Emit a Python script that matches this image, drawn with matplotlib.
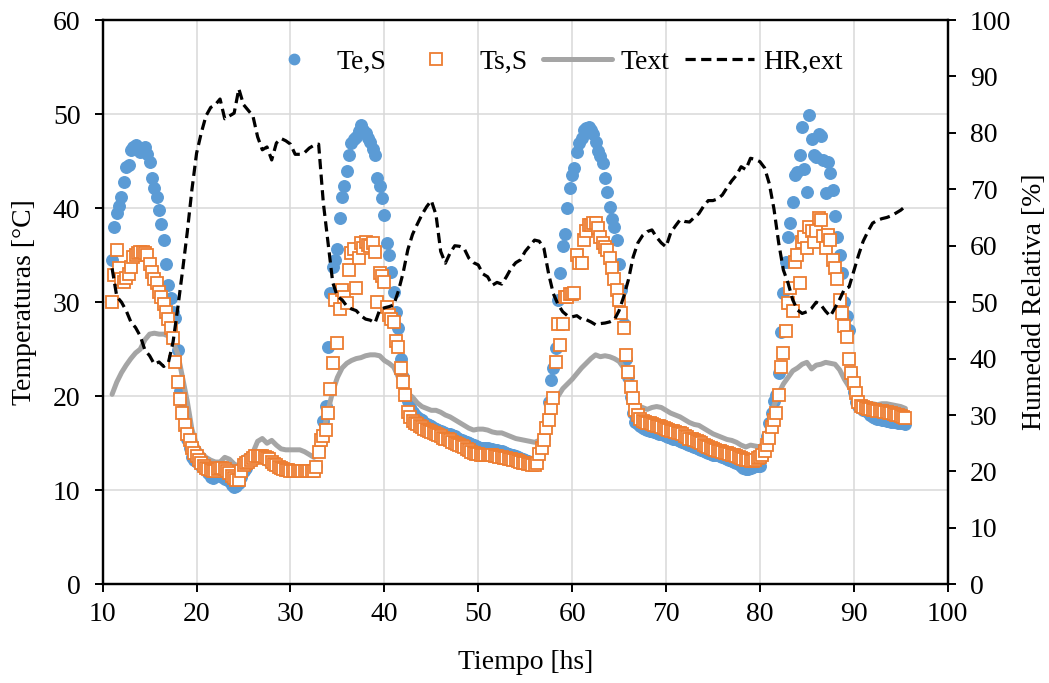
import numpy as np
import matplotlib
matplotlib.use("Agg")
import matplotlib.pyplot as plt

plt.rcParams['font.family'] = ['Liberation Serif', 'DejaVu Serif']

# ---- data ----
# marker series sampled every 0.25 h, line series every 0.5 h, both from 11.0 h
t_start = 11.0
step_markers = 0.25
step_lines = 0.5

te_s = [
    34.5, 38.0, 39.5, 40.2, 41.2, 42.8, 44.4, 44.6,
    46.2, 46.5, 46.7, 46.3, 46.0, 46.3, 46.5, 45.8,
    44.9, 43.2, 42.1, 41.2, 39.8, 38.3, 36.6, 34.1,
    31.8, 30.4, 29.0, 28.3, 24.9, 20.6, 18.5, 17.0,
    15.5, 14.5, 13.5, 13.2, 13.0, 12.8, 12.6, 12.4,
    12.2, 11.8, 11.4, 11.3, 11.8, 11.6, 11.5, 11.4,
    11.2, 11.3, 11.0, 10.6, 10.3, 10.4, 10.8, 11.4,
    12.0, 12.4, 12.8, 13.1, 13.3, 13.6, 13.8, 13.8,
    13.6, 13.4, 13.2, 13.1, 13.0, 12.8, 12.6, 12.5,
    12.4, 12.3, 12.3, 12.2, 12.2, 12.2, 12.2, 12.1,
    12.1, 12.1, 12.1, 12.1, 12.1, 12.0, 12.0, 12.6,
    14.3, 15.5, 17.4, 19.0, 25.2, 31.0, 33.7, 34.5,
    35.7, 39.0, 41.2, 42.4, 43.9, 45.6, 46.9, 47.3,
    47.6, 48.2, 48.8, 48.3, 48.0, 47.5, 47.0, 46.3,
    45.6, 43.2, 42.4, 41.1, 39.3, 36.3, 35.0, 33.2,
    31.1, 29.0, 27.2, 24.0, 22.0, 20.5, 19.5, 18.8,
    18.3, 18.0, 17.8, 17.6, 17.5, 17.2, 17.0, 16.9,
    16.8, 16.6, 16.5, 16.4, 16.3, 16.2, 16.1, 16.0,
    16.0, 15.9, 15.8, 15.6, 15.5, 15.3, 15.2, 15.1,
    15.0, 14.9, 14.8, 14.7, 14.6, 14.5, 14.5, 14.5,
    14.5, 14.4, 14.4, 14.3, 14.3, 14.2, 14.2, 14.1,
    14.0, 13.9, 13.8, 13.7, 13.6, 13.5, 13.4, 13.3,
    13.2, 13.1, 13.0, 13.0, 13.0, 13.2, 14.0, 14.8,
    15.6, 16.9, 19.4, 21.7, 23.0, 25.1, 30.2, 33.1,
    36.0, 37.3, 40.0, 42.1, 43.5, 44.3, 46.0, 46.9,
    47.5, 48.3, 48.5, 48.6, 48.3, 47.9, 47.0, 46.1,
    45.5, 44.8, 43.2, 41.7, 40.1, 38.8, 38.0, 36.6,
    34.1, 31.3, 27.7, 24.0, 22.0, 19.9, 18.2, 17.3,
    17.0, 16.8, 16.6, 16.5, 16.4, 16.3, 16.3, 16.2,
    16.1, 16.0, 16.0, 15.9, 15.8, 15.7, 15.6, 15.5,
    15.4, 15.3, 15.2, 15.1, 15.0, 14.9, 14.8, 14.7,
    14.6, 14.5, 14.4, 14.3, 14.2, 14.1, 14.0, 13.9,
    13.8, 13.8, 13.7, 13.6, 13.5, 13.4, 13.3, 13.2,
    13.1, 13.0, 12.9, 12.8, 12.6, 12.4, 12.3, 12.3,
    12.4, 12.5, 12.6, 12.6, 12.6, 13.5, 14.6, 15.8,
    17.1, 18.2, 19.5, 20.1, 22.5, 26.8, 31.0, 34.3,
    36.9, 38.4, 40.6, 43.5, 43.8, 45.6, 48.6, 44.2,
    41.7, 49.9, 47.4, 45.6, 45.4, 47.9, 47.7, 45.1,
    41.6, 44.9, 43.7, 41.9, 39.2, 36.9, 35.0, 33.1,
    30.0, 28.5, 27.0, 22.5, 20.5, 19.4, 19.0, 18.7,
    18.5, 18.4, 18.3, 18.0, 17.8, 17.7, 17.6, 17.6,
    17.5, 17.5, 17.4, 17.4, 17.3, 17.3, 17.3, 17.2,
    17.1, 17.1, 17.0,
]

ts_s = [
    30.0, 32.9, 35.5, 33.6, 32.5, 32.1, 32.6, 33.0,
    33.7, 34.8, 35.0, 35.2, 35.3, 35.3, 35.2, 35.0,
    34.1, 33.2, 32.5, 32.0, 31.1, 30.5, 29.8, 29.0,
    28.2, 27.2, 26.2, 23.6, 21.5, 19.7, 18.2, 16.9,
    16.0, 15.3, 14.5, 14.0, 13.6, 13.2, 12.9, 12.6,
    12.4, 12.3, 12.2, 12.1, 12.1, 12.3, 12.4, 12.4,
    12.3, 12.0, 11.8, 11.5, 11.3, 11.1, 11.1, 12.0,
    12.7, 12.9, 13.0, 13.2, 13.4, 13.6, 13.6, 13.6,
    13.6, 13.5, 13.4, 13.3, 13.0, 12.8, 12.7, 12.5,
    12.4, 12.3, 12.2, 12.2, 12.1, 12.1, 12.1, 12.1,
    12.0, 12.0, 12.0, 12.0, 12.0, 12.1, 12.1, 12.5,
    14.1, 15.3, 15.8, 16.4, 18.2, 20.8, 23.5, 30.2,
    25.7, 29.3, 31.3, 30.5, 29.9, 33.4, 35.2, 35.7,
    31.5, 34.7, 36.3, 35.8, 36.4, 36.1, 36.0, 36.3,
    35.3, 30.0, 33.1, 32.8, 32.1, 29.5, 28.6, 28.2,
    27.9, 25.9, 25.2, 23.0, 21.5, 20.1, 18.3, 17.8,
    17.4, 17.2, 17.0, 16.8, 16.7, 16.5, 16.4, 16.3,
    16.2, 16.1, 16.0, 15.9, 15.8, 15.6, 15.5, 15.4,
    15.3, 15.1, 15.0, 14.9, 14.8, 14.7, 14.6, 14.4,
    14.3, 14.1, 14.0, 13.9, 13.9, 13.8, 13.8, 13.8,
    13.8, 13.7, 13.7, 13.6, 13.6, 13.5, 13.5, 13.4,
    13.4, 13.3, 13.3, 13.2, 13.2, 13.1, 13.0, 12.9,
    12.9, 12.8, 12.8, 12.7, 12.7, 12.9, 13.9, 14.5,
    15.3, 16.6, 17.5, 18.7, 19.8, 23.6, 27.7, 25.4,
    27.7, 30.5, 30.5, 30.9, 30.9, 31.0, 35.0, 34.2,
    34.2, 36.6, 37.6, 38.2, 38.2, 38.4, 38.4, 37.9,
    36.9, 36.3, 35.9, 35.5, 34.7, 33.6, 32.5, 31.3,
    30.2, 28.9, 27.2, 24.4, 22.6, 21.0, 19.8, 18.5,
    18.0, 17.6, 17.4, 17.3, 17.2, 17.1, 17.0, 16.9,
    16.8, 16.8, 16.7, 16.6, 16.5, 16.4, 16.3, 16.3,
    16.2, 16.1, 16.1, 16.0, 15.8, 15.7, 15.5, 15.4,
    15.3, 15.2, 15.1, 15.0, 14.8, 14.7, 14.6, 14.5,
    14.4, 14.3, 14.2, 14.2, 14.1, 14.0, 14.0, 13.9,
    13.8, 13.7, 13.6, 13.5, 13.4, 13.3, 13.2, 13.2,
    13.1, 13.1, 13.2, 13.4, 13.5, 13.7, 14.2, 14.8,
    15.6, 16.7, 17.5, 18.2, 20.1, 23.1, 24.6, 26.9,
    29.9, 31.5, 29.1, 34.3, 35.0, 32.0, 36.4, 36.9,
    35.8, 38.0, 37.6, 36.4, 37.6, 38.9, 38.7, 37.0,
    35.8, 37.1, 36.6, 34.5, 33.6, 32.5, 30.2, 28.9,
    27.5, 26.3, 24.0, 22.5, 21.4, 20.3, 19.4, 19.0,
    18.8, 18.7, 18.6, 18.6, 18.5, 18.5, 18.4, 18.4,
    18.4, 18.3, 18.3, 18.2, 18.2, 18.1, 18.0, 18.0,
    17.9, 17.8, 17.7,
]

t_ext = [
    20.2, 21.5, 22.5, 23.3, 24.0, 24.6, 25.0, 26.0, 26.6, 26.7,
    26.6, 26.6, 26.4, 25.8, 24.5, 22.0, 19.5, 16.5, 14.8, 14.0,
    13.5, 13.2, 13.0, 13.0, 13.5, 13.3, 12.8, 12.5, 13.5, 13.8,
    14.0, 15.2, 15.5, 15.0, 15.3, 14.8, 14.4, 14.3, 14.3, 14.3,
    14.3, 14.1, 13.8, 13.5, 14.0, 16.0, 18.5, 20.5, 22.0, 23.0,
    23.5, 23.8, 24.0, 24.1, 24.3, 24.4, 24.4, 24.3, 23.8, 23.5,
    23.1, 22.0, 21.0, 20.3, 19.9, 19.3, 18.9, 18.7, 18.5, 18.5,
    18.3, 18.0, 17.8, 17.5, 17.2, 16.9, 16.6, 16.4, 16.5, 16.5,
    16.4, 16.2, 16.1, 16.1, 15.9, 15.7, 15.5, 15.4, 15.3, 15.2,
    15.1, 15.3, 16.5, 18.0, 19.2, 20.0, 20.8, 21.3, 21.8, 22.4,
    23.0, 23.5, 24.0, 24.4, 24.2, 24.3, 24.2, 24.0, 23.7, 23.0,
    21.5, 20.0, 19.0, 18.8, 18.6, 18.8, 18.9, 18.8, 18.5, 18.2,
    18.0, 17.8, 17.5, 17.2, 17.0, 16.9, 16.6, 16.3, 16.0, 15.8,
    15.6, 15.4, 15.3, 15.1, 14.8, 14.6, 14.8, 14.7, 14.6, 15.2,
    16.8, 19.0, 20.3, 21.3, 22.0, 22.7, 23.0, 23.4, 23.6, 22.9,
    23.3, 23.4, 23.6, 23.5, 23.4, 22.8, 21.8, 21.0, 20.2, 19.6,
    19.4, 19.2, 19.2, 19.1, 19.2, 19.2, 19.1, 19.0, 18.9, 18.7,
]

hr_ext = [
    56.0, 51.0, 50.0, 48.5, 46.5, 45.5, 44.0, 41.5, 40.5, 39.0,
    39.4, 38.6, 39.3, 43.0, 49.0, 55.5, 62.3, 69.9, 76.4, 80.0,
    83.0, 84.5, 85.0, 86.0, 82.5, 83.0, 83.5, 87.8, 85.0, 84.0,
    83.0, 79.3, 77.0, 77.5, 75.2, 78.2, 79.0, 78.6, 78.0, 76.2,
    76.2, 76.5, 77.3, 77.8, 78.0, 67.6, 60.5, 53.5, 51.0, 50.4,
    49.3, 48.8, 48.5, 47.6, 47.0, 46.8, 46.3, 48.6, 49.0, 49.2,
    49.5, 52.0, 55.2, 59.3, 62.0, 63.8, 65.5, 66.9, 68.0, 65.5,
    59.0, 56.9, 58.7, 60.0, 59.9, 59.5, 57.8, 57.0, 56.6, 55.0,
    54.5, 53.0, 53.5, 53.2, 54.5, 56.0, 57.0, 57.5, 59.0, 60.0,
    61.0, 60.8, 59.5, 55.0, 51.5, 49.6, 48.3, 47.6, 47.4, 47.6,
    47.0, 46.9, 46.5, 46.0, 46.2, 46.3, 46.5, 46.9, 48.5, 51.0,
    54.0, 58.0, 60.5, 61.8, 62.5, 62.8, 61.5, 60.5, 59.8, 62.3,
    63.5, 64.6, 64.3, 64.2, 65.0, 65.7, 67.0, 68.0, 68.0, 68.3,
    69.0, 70.3, 71.5, 72.5, 74.0, 73.5, 75.5, 75.3, 74.9, 73.8,
    71.0, 66.5, 60.5, 55.7, 53.4, 50.4, 48.6, 48.0, 48.3, 48.9,
    50.0, 49.5, 48.4, 47.5, 49.0, 50.5, 52.3, 52.7, 55.5, 58.3,
    60.8, 62.5, 64.0, 64.5, 64.8, 65.0, 65.3, 65.8, 66.3, 67.0,
]

labels = ["Te,S", "Ts,S", "Text", "HR,ext"]
x_ticks = [10, 20, 30, 40, 50, 60, 70, 80, 90, 100]
yl_ticks = [0, 10, 20, 30, 40, 50, 60]
yr_ticks = [0, 10, 20, 30, 40, 50, 60, 70, 80, 90, 100]

time_m = t_start + step_markers * np.arange(len(te_s))
time_l = t_start + step_lines * np.arange(len(t_ext))

BLUE = '#5B9BD5'
ORANGE = '#ED7D31'
GRAY = '#A5A5A5'
FS = 20

fig = plt.figure(figsize=(10.49, 6.83), dpi=100)
ax = fig.add_axes([0.0979, 0.1445, 0.8055, 0.8262])
ax2 = ax.twinx()

ax.set_axisbelow(True)
ax.grid(True, color='#D9D9D9', linewidth=1.1)

h1, = ax.plot(time_m, te_s, linestyle='none', marker='o', ms=8.3,
              color=BLUE, mec=BLUE, zorder=3, label=labels[0])
h3, = ax.plot(time_l, t_ext, color=GRAY, linewidth=3.6, zorder=4,
              solid_capstyle='round', label=labels[2])
h2, = ax.plot(time_m, ts_s, linestyle='none', marker='s', ms=8.8,
              mfc='white', mec=ORANGE, mew=1.3, zorder=5, label=labels[1])
h4, = ax2.plot(time_l, hr_ext, color='black', linewidth=2.3,
               dashes=(3.2, 1.7), label=labels[3])

ax.set_xlim(10, 100)
ax.set_ylim(0, 60)
ax2.set_ylim(0, 100)
ax.set_xticks(x_ticks)
ax.set_yticks(yl_ticks)
ax2.set_yticks(yr_ticks)

for a in (ax, ax2):
    for s in a.spines.values():
        s.set_color('black')
        s.set_linewidth(1.6)
ax.tick_params(axis='both', direction='out', length=6, width=1.4,
               labelsize=FS, color='black')
ax.tick_params(axis='y', pad=10)
ax.tick_params(axis='x', pad=7)
ax2.tick_params(axis='y', direction='out', length=6, width=1.4,
                labelsize=FS, pad=10)

ax.set_xlabel("Tiempo [hs]", fontsize=FS)
ax.set_ylabel("Temperaturas [°C]", fontsize=FS)
ax2.set_ylabel("Humedad Relativa [%]", fontsize=FS)
ax.xaxis.set_label_coords(0.5, -0.116)
ax.yaxis.set_label_coords(-0.078, 0.5)
ax2.yaxis.set_label_coords(1.088, 0.5)

leg = ax2.legend([h1, h2, h3, h4], labels, loc='center',
                 bbox_to_anchor=(0.53, 0.925), ncol=4, frameon=False,
                 fontsize=FS, handlelength=2.5, handletextpad=0.3,
                 columnspacing=0.55, markerscale=0.9)

fig.savefig('out.png', dpi=100)
